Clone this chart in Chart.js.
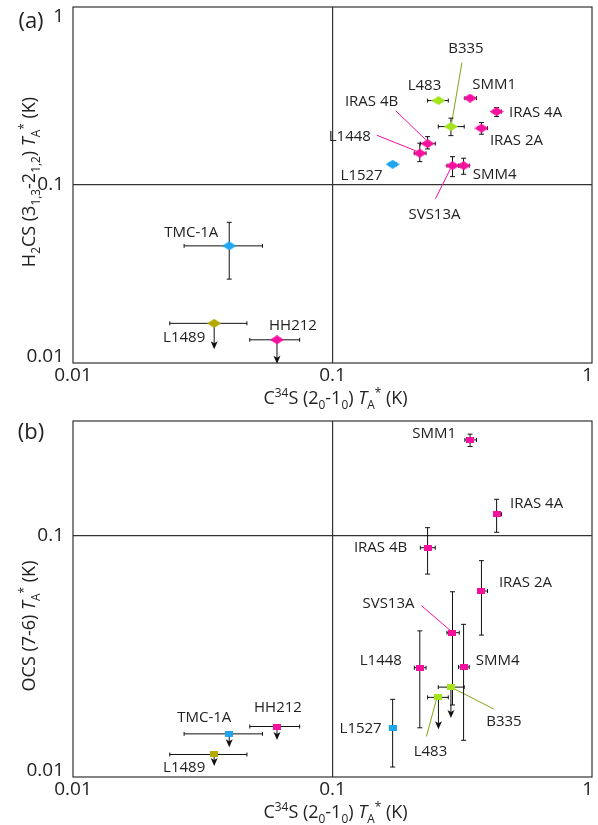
<!DOCTYPE html>
<html>
<head>
<meta charset="utf-8">
<script src="https://cdn.jsdelivr.net/npm/chart.js@4.4.1/dist/chart.umd.min.js"></script>
<style>
  body { margin: 0; background: #fff; }
  canvas { display: block; }
</style>
</head>
<body>
<canvas id="chartA" width="598" height="410"></canvas>
<canvas id="chartB" width="598" height="415"></canvas>
<script>
// sources (same order in every array)
const names = ['SMM1', 'IRAS 4A', 'L483', 'B335', 'IRAS 2A', 'IRAS 4B', 'L1448', 'L1527', 'SVS13A', 'SMM4', 'TMC-1A', 'L1489', 'HH212'];
const kinds = ['pink', 'pink', 'green', 'green', 'pink', 'pink', 'pink', 'blue', 'pink', 'pink', 'blue', 'olive', 'pink'];

// C34S (2-1) TA* (K), x axis of both panels
const c34s   = [0.339, 0.429, 0.256, 0.286, 0.375, 0.2325, 0.217, 0.1705, 0.290, 0.320, 0.0400, 0.0350, 0.0611];
const c34sLo = [0.3237, 0.4172, 0.2325, 0.2557, 0.3643, 0.218, 0.2067, 0.1656, 0.2762, 0.3060, 0.0268, 0.0236, 0.0480];
const c34sHi = [0.3589, 0.4479, 0.2794, 0.3218, 0.3956, 0.2489, 0.2293, 0.1762, 0.3079, 0.3365, 0.0537, 0.0468, 0.0747];

// H2CS (3_1,3 - 2_1,2) TA* (K), panel (a)
const h2cs      = [0.3075, 0.2585, 0.2981, 0.2129, 0.2085, 0.1708, 0.1508, 0.1307, 0.1284, 0.1284, 0.0455, 0.0167, 0.0135];
const h2csLo    = [null, 0.2423, null, 0.1894, 0.1929, 0.1594, 0.1353, null, 0.1114, 0.1149, 0.0296, null, null];
const h2csHi    = [null, 0.2723, null, 0.2374, 0.2242, 0.1869, 0.1717, null, 0.1443, 0.1414, 0.0617, null, null];
const h2csLimit = [false, false, false, false, false, false, false, false, false, false, false, true, true];

// OCS (7-6) TA* (K), panel (b)
const ocs      = [0.2504, 0.1231, 0.0214, 0.0236, 0.0591, 0.0894, 0.0284, 0.0160, 0.0397, 0.0286, 0.0151, 0.0124, 0.0162];
const ocsLo    = [0.2350, 0.1036, null, null, 0.0388, 0.0695, 0.0160, 0.0110, 0.0199, 0.0142, null, null, null];
const ocsHi    = [0.2646, 0.1420, null, null, 0.0790, 0.1083, 0.0404, 0.0210, 0.0587, 0.0430, null, null, null];
const ocsLimit = [false, false, true, true, false, false, false, false, false, false, true, true, true];

// ticks
const xTickValues = [0.01, 0.1, 1];
const xTickLabels = ['0.01', '0.1', '1'];
const aTickValues = [0.01, 0.1, 1];
const aTickLabels = ['0.01', '0.1', '1'];
const bTickValues = [0.01, 0.1];
const bTickLabels = ['0.01', '0.1'];

// ---- styles / placement ----
const colors = { pink: '#f5109e', green: '#a4e41c', blue: '#1ea6ee', olive: '#b4a900' };
const leaderColors = { pink: '#f5109e', green: '#7ea41a' };
const FONT = '"Open Sans", "Noto Sans", sans-serif';

// label offsets from the marker (px)
const labelPosA = [[24, -13], [39, 1], [-14, -15], [15, -78], [35, 13], [-56, -42], [-70, -17], [-31, 11], [-18, 49], [31, 9], [-38, -13], [-30, 14], [16, -14]];
const labelPosB = [[-36, -6], [40, -11], [-8, 54], [53, 35], [44, -8], [-47, 0], [-39, -7], [-32, 1], [-64, -29], [34, -6], [-25, -16], [-30, 13], [1, -19]];
const leadersA = [
  { i: 3, from: [11, -64], to: [1, -5], c: 'green' },
  { i: 5, from: [-32, -33], to: [-2, -4], c: 'pink' },
  { i: 6, from: [-43, -18], to: [-3, -2], c: 'pink' },
  { i: 8, from: [-17, 33], to: [-2, 3], c: 'pink' }
];
const leadersB = [
  { i: 8, from: [-31, -27], to: [-2, -2], c: 'pink' },
  { i: 2, from: [-12, 39], to: [-2, 2], c: 'green' },
  { i: 3, from: [43, 22], to: [0, 0], c: 'green' }
];
const arrowLenA = { 11: 26, 12: 24 };
const arrowLenB = { 2: 32, 3: 31, 10: 13.5, 11: 11.5, 12: 13.5 };

// marker images
function makeMarker(color, w, h, shape) {
  const c = document.createElement('canvas');
  c.width = w; c.height = h;
  const g = c.getContext('2d');
  g.fillStyle = color;
  if (shape === 'diamond') {
    g.beginPath();
    g.moveTo(w / 2, 0); g.lineTo(w, h / 2); g.lineTo(w / 2, h); g.lineTo(0, h / 2);
    g.closePath(); g.fill();
  } else {
    g.fillRect(0, 0, w, h);
  }
  return c;
}
const diamonds = {}, squares = {};
Object.keys(colors).forEach(k => {
  diamonds[k] = makeMarker(colors[k], 14, 9, 'diamond');
  squares[k] = makeMarker(colors[k], 8, 6, 'rect');
});

// rich text (sub / sup / italic) drawing
function segFont(s, size) {
  const sz = (s.sub || s.sup) ? size * 0.66 : size;
  return (s.it ? 'italic ' : '') + sz + 'px ' + FONT;
}
function drawRich(ctx, segs, x, y, size, rotate) {
  ctx.save();
  ctx.translate(x, y);
  if (rotate) ctx.rotate(-Math.PI / 2);
  let total = 0;
  segs.forEach(s => { ctx.font = segFont(s, size); total += ctx.measureText(s.t).width; });
  let cx = -total / 2;
  ctx.textBaseline = 'alphabetic';
  ctx.textAlign = 'left';
  ctx.fillStyle = '#222';
  segs.forEach(s => {
    ctx.font = segFont(s, size);
    const dy = s.sub ? size * 0.28 : s.sup ? -size * 0.4 : 0;
    ctx.fillText(s.t, cx, size * 0.35 + dy);
    cx += ctx.measureText(s.t).width;
  });
  ctx.restore();
}
const TA = [{ t: 'T', it: true }, { t: 'A', sub: true }, { t: '*', sup: true }, { t: ' (K)' }];
const xTitle = [{ t: 'C' }, { t: '34', sup: true }, { t: 'S (2' }, { t: '0', sub: true }, { t: '-1' }, { t: '0', sub: true }, { t: ') ' }].concat(TA);
const aTitle = [{ t: 'H' }, { t: '2', sub: true }, { t: 'CS (3' }, { t: '1,3', sub: true }, { t: '-2' }, { t: '1,2', sub: true }, { t: ') ' }].concat(TA);
const bTitle = [{ t: 'OCS (7-6) ' }].concat(TA);

function decorPlugin(cfg) {
  return {
    id: 'decor',
    beforeDatasetsDraw(chart) {
      const { ctx, chartArea: a, scales: { x, y } } = chart;
      ctx.save();
      // plot box
      ctx.strokeStyle = '#333';
      ctx.lineWidth = 1.2;
      ctx.strokeRect(a.left, a.top, a.right - a.left, a.bottom - a.top);

      // leader lines
      ctx.lineWidth = 1;
      cfg.leaders.forEach(l => {
        const px = x.getPixelForValue(c34s[l.i]), py = y.getPixelForValue(cfg.yv[l.i]);
        ctx.strokeStyle = leaderColors[l.c];
        ctx.beginPath();
        ctx.moveTo(px + l.from[0], py + l.from[1]);
        ctx.lineTo(px + l.to[0], py + l.to[1]);
        ctx.stroke();
      });

      // error bars
      ctx.strokeStyle = '#111';
      ctx.lineWidth = 1;
      names.forEach((n, i) => {
        const px = x.getPixelForValue(c34s[i]), py = y.getPixelForValue(cfg.yv[i]);
        if (c34sLo[i] != null) {
          const x0 = x.getPixelForValue(c34sLo[i]), x1 = x.getPixelForValue(c34sHi[i]);
          ctx.beginPath();
          ctx.moveTo(x0, py); ctx.lineTo(x1, py);
          ctx.moveTo(x0, py - 2); ctx.lineTo(x0, py + 2);
          ctx.moveTo(x1, py - 2); ctx.lineTo(x1, py + 2);
          ctx.stroke();
        }
        if (cfg.lo[i] != null) {
          const y0 = y.getPixelForValue(cfg.lo[i]), y1 = y.getPixelForValue(cfg.hi[i]);
          ctx.beginPath();
          ctx.moveTo(px, y0); ctx.lineTo(px, y1);
          ctx.moveTo(px - 2.5, y0); ctx.lineTo(px + 2.5, y0);
          ctx.moveTo(px - 2.5, y1); ctx.lineTo(px + 2.5, y1);
          ctx.stroke();
        }
        if (cfg.limit[i]) {
          const len = cfg.arrows[i];
          ctx.beginPath();
          ctx.moveTo(px, py); ctx.lineTo(px, py + len - 4);
          ctx.stroke();
          ctx.fillStyle = '#111';
          ctx.beginPath();
          ctx.moveTo(px, py + len);
          ctx.lineTo(px - 3.5, py + len - 8);
          ctx.lineTo(px, py + len - 6);
          ctx.lineTo(px + 3.5, py + len - 8);
          ctx.closePath();
          ctx.fill();
        }
      });
      ctx.restore();
    },
    afterDraw(chart) {
      const { ctx, chartArea: a, scales: { x, y } } = chart;
      ctx.save();
      // tick labels
      ctx.fillStyle = '#222';
      ctx.font = '19px ' + FONT;
      ctx.textAlign = 'right';
      ctx.textBaseline = 'middle';
      cfg.yTickValues.forEach((v, i) => {
        let py = y.getPixelForValue(v);
        py = Math.min(Math.max(py, a.top + 10), a.bottom - 6);
        ctx.fillText(cfg.yTickLabels[i], a.left - 9, py);
      });
      ctx.textBaseline = 'top';
      xTickValues.forEach((v, i) => {
        const px = x.getPixelForValue(v);
        const last = i === xTickValues.length - 1;
        ctx.textAlign = last ? 'right' : 'center';
        ctx.fillText(xTickLabels[i], last ? px + 1 : px, a.bottom + 3);
      });

      // source labels
      ctx.font = '15px ' + FONT;
      ctx.textAlign = 'center';
      ctx.textBaseline = 'middle';
      names.forEach((n, i) => {
        const px = x.getPixelForValue(c34s[i]), py = y.getPixelForValue(cfg.yv[i]);
        ctx.fillText(n, px + cfg.labels[i][0], py + cfg.labels[i][1]);
      });

      // panel tag
      ctx.font = '22px ' + FONT;
      ctx.textAlign = 'center';
      ctx.fillText(cfg.tag, 31, a.top + cfg.tagDy);
      ctx.restore();

      // axis titles
      drawRich(ctx, xTitle, (a.left + a.right) / 2 + 3, a.bottom + 35, 18, false);
      drawRich(ctx, cfg.yTitle, 29, cfg.yTitleY, 18, true);
    }
  };
}

function makeChart(id, cfg) {
  const markers = cfg.shape === 'diamond' ? diamonds : squares;
  return new Chart(document.getElementById(id), {
    type: 'scatter',
    data: {
      datasets: [{
        data: names.map((n, i) => ({ x: c34s[i], y: cfg.yv[i] })),
        pointStyle: ctx => markers[kinds[ctx.dataIndex]],
        pointRadius: 5
      }]
    },
    options: {
      responsive: false,
      animation: false,
      layout: { padding: { top: cfg.padTop, right: 5, left: 0, bottom: 0 } },
      plugins: { legend: { display: false }, tooltip: { enabled: false } },
      scales: {
        x: {
          type: 'logarithmic', min: 0.01, max: 1,
          ticks: { display: false },
          border: { display: false },
          grid: { drawTicks: false, lineWidth: 1.2, color: c => (c.tick && c.tick.value === 0.1) ? '#333' : 'rgba(0,0,0,0)' },
          afterBuildTicks: s => { s.ticks = xTickValues.map(v => ({ value: v })); },
          afterFit: s => { s.height = cfg.xAxisH; s.paddingLeft = 0; s.paddingRight = 0; }
        },
        y: {
          type: 'logarithmic', min: cfg.yMin, max: cfg.yMax,
          ticks: { display: false },
          border: { display: false },
          grid: { drawTicks: false, lineWidth: 1.2, color: c => (c.tick && c.tick.value === 0.1) ? '#333' : 'rgba(0,0,0,0)' },
          afterBuildTicks: s => { s.ticks = cfg.yTickValues.map(v => ({ value: v })); },
          afterFit: s => { s.width = 73; s.paddingTop = 0; s.paddingBottom = 0; }
        }
      }
    },
    plugins: [decorPlugin(cfg)]
  });
}

makeChart('chartA', {
  yv: h2cs, lo: h2csLo, hi: h2csHi, limit: h2csLimit, arrows: arrowLenA,
  labels: labelPosA, leaders: leadersA, shape: 'diamond',
  yMin: 0.01, yMax: 1, yTickValues: aTickValues, yTickLabels: aTickLabels,
  padTop: 7, xAxisH: 47, tag: '(a)', tagDy: 15, yTitle: aTitle, yTitleY: 182
});
makeChart('chartB', {
  yv: ocs, lo: ocsLo, hi: ocsHi, limit: ocsLimit, arrows: arrowLenB,
  labels: labelPosB, leaders: leadersB, shape: 'rect',
  yMin: 0.01, yMax: 0.3, yTickValues: bTickValues, yTickLabels: bTickLabels,
  padTop: 11, xAxisH: 48, tag: '(b)', tagDy: 12, yTitle: bTitle, yTitleY: 216
});
</script>
</body>
</html>
